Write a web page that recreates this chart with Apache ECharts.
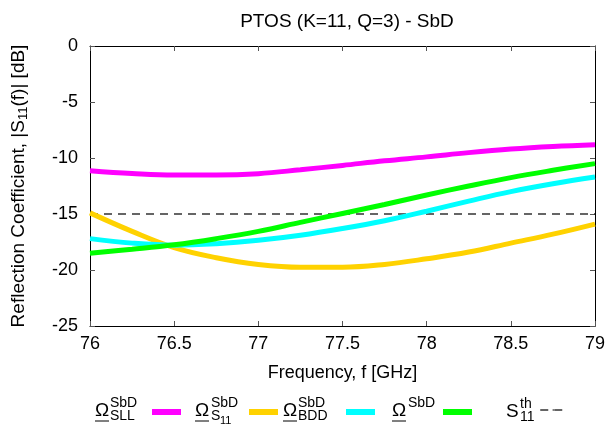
<!DOCTYPE html>
<html><head><meta charset="utf-8">
<script src="https://cdn.jsdelivr.net/npm/echarts@6/dist/echarts.min.js"></script>
<style>html,body{margin:0;padding:0;background:#fff}#c{width:610px;height:430px}</style>
</head><body><div id="c"></div>
<script>
// ---- data ----
const freq      = [76, 76.25, 76.5, 76.75, 77, 77.25, 77.5, 77.75, 78, 78.25, 78.5, 78.75, 79];
const omegaSLL  = [-11.13, -11.38, -11.52, -11.52, -11.40, -11.05, -10.66, -10.25, -9.90, -9.52, -9.20, -8.97, -8.81];
const omegaS11  = [-14.90, -16.55, -18.00, -18.90, -19.50, -19.75, -19.75, -19.50, -19.00, -18.40, -17.60, -16.80, -15.90];
const omegaBDD  = [-17.20, -17.60, -17.78, -17.65, -17.35, -16.90, -16.30, -15.60, -14.75, -13.85, -13.00, -12.30, -11.70];
const omegaSbD  = [-18.50, -18.15, -17.75, -17.20, -16.55, -15.75, -14.95, -14.15, -13.30, -12.50, -11.75, -11.10, -10.50];
const s11Th     = [-15, -15];
const s11ThFreq = [76, 79];
const seriesNames = ['Ω_SLL^SbD', 'Ω_S11^SbD', 'Ω_BDD^SbD', 'Ω^SbD', 'S11^th'];

const pair = (xs, ys) => xs.map((x, i) => [x, ys[i]]);
const FONT = 'Liberation Sans, Arial, Helvetica, sans-serif';

// legend: icons from the legend component (text-first, icon after), label text drawn as real text
const legendRight = [424, 327, 230, 133, 38];
const legends = seriesNames.map((n, i) => ({
  data: [{name: n, icon: i < 4 ? 'rect' : undefined}],
  right: legendRight[i], top: 404, orient: 'horizontal', align: 'right',
  itemWidth: i < 4 ? 29 : 26, itemHeight: i < 4 ? 6 : 2,
  lineStyle: i < 4 ? undefined : {width: 1.5, type: [8, 6], color: '#333'},
  selectedMode: false,
  formatter: () => '',
  textStyle: {fontSize: 1}
}));

function txt(text, x, y, size) {
  return {type: 'text', x: x, y: y, silent: true,
    style: {text: text, fill: '#000', font: size + 'px ' + FONT, verticalAlign: 'middle', align: 'left'}};
}
function ul(x1, x2, y) {
  return {type: 'line', silent: true, shape: {x1: x1, y1: y, x2: x2, y2: y}, style: {stroke: '#000', lineWidth: 1}};
}
const legendLabels = [
  txt('Ω', 95, 411, 19),  txt('SbD', 110, 403, 14), txt('SLL', 110, 416, 14), ul(95, 109, 421),
  txt('Ω', 195, 411, 19), txt('SbD', 211, 403, 14), txt('S', 211, 416, 14), txt('11', 220, 421, 11), ul(195, 209, 421),
  txt('Ω', 283, 411, 19), txt('SbD', 298, 403, 14), txt('BDD', 298, 416, 14), ul(283, 297, 421),
  txt('Ω', 392, 411, 19), txt('SbD', 408, 403, 14), ul(392, 406, 421),
  txt('S', 506, 412, 19), txt('th', 520, 404, 14), txt('11', 520, 417, 14)
];

const colors = ['#ff00ff', '#ffd200', '#00ffff', '#00ff00'];
const curves = [omegaSLL, omegaS11, omegaBDD, omegaSbD];

const series = curves.map((c, i) => ({
  name: seriesNames[i], type: 'line', data: pair(freq, c), smooth: 0.4,
  symbol: 'none', color: colors[i],
  lineStyle: {width: 5, color: colors[i]}, z: 3, silent: true
}));
series.push({
  name: seriesNames[4], type: 'line', data: pair(s11ThFreq, s11Th),
  symbol: 'none', color: '#333', lineStyle: {width: 1.5, type: [8, 6], color: '#333'}, z: 2, silent: true
});

const tickStyle = {show: true, inside: true, length: 5, lineStyle: {color: '#555', width: 1}};
const axisLineStyle = {show: true, onZero: false, lineStyle: {color: '#000', width: 1}};

const option = {
  animation: false,
  backgroundColor: '#fff',
  title: {
    text: 'PTOS (K=11, Q=3) - SbD', left: 342, top: 7, textAlign: 'center',
    textStyle: {fontFamily: FONT, fontSize: 19, fontWeight: 'normal', color: '#000'}
  },
  legend: legends,
  graphic: legendLabels,
  grid: {left: 90, right: 15, top: 46, bottom: 104},
  xAxis: [{
    type: 'value', min: 76, max: 79, interval: 0.5, position: 'bottom',
    name: 'Frequency, f [GHz]', nameLocation: 'middle', nameGap: 38,
    nameTextStyle: {fontFamily: FONT, fontSize: 18, color: '#000'},
    axisLine: axisLineStyle, axisTick: tickStyle, splitLine: {show: false},
    axisLabel: {fontFamily: FONT, fontSize: 18, color: '#000', margin: 9}
  }, {
    type: 'value', min: 76, max: 79, interval: 0.5, position: 'top',
    axisLine: axisLineStyle, axisTick: tickStyle, splitLine: {show: false}, axisLabel: {show: false}
  }],
  yAxis: [{
    type: 'value', min: -25, max: 0, interval: 5, position: 'left',
    name: 'Reflection Coefficient, |S{s|11}(f)| [dB]', nameLocation: 'middle', nameGap: 60,
    nameTextStyle: {fontFamily: FONT, fontSize: 19, color: '#000',
      rich: {s: {fontFamily: FONT, fontSize: 13, color: '#000', padding: [10, 0, 0, 0]}}},
    axisLine: axisLineStyle, axisTick: tickStyle, splitLine: {show: false},
    axisLabel: {fontFamily: FONT, fontSize: 18, color: '#000', margin: 12}
  }, {
    type: 'value', min: -25, max: 0, interval: 5, position: 'right',
    axisLine: axisLineStyle, axisTick: tickStyle, splitLine: {show: false}, axisLabel: {show: false}
  }],
  series: series
};

const chart = echarts.init(document.getElementById('c'), null, {renderer: 'canvas'});
chart.setOption(option);
</script>
</body></html>
